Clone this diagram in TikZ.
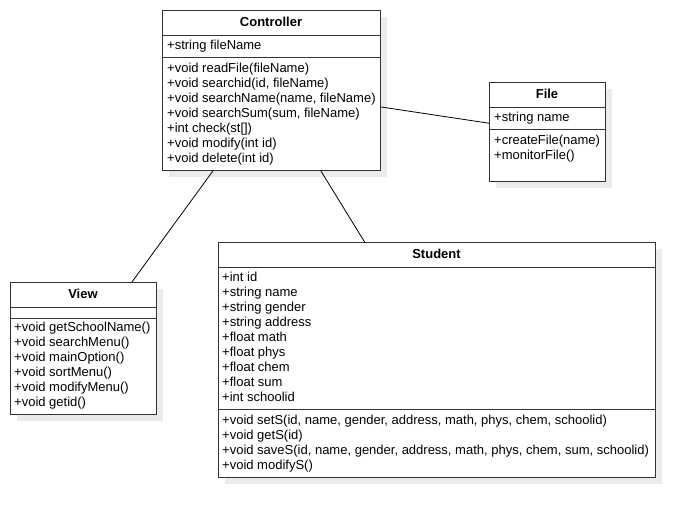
\documentclass[tikz,border=0pt]{standalone}
\usepackage{fontspec}
\setmainfont{Liberation Sans}
\usetikzlibrary{shadows}
\begin{document}
\begin{tikzpicture}[x=1pt,y=-1pt,
  classbox/.style={draw=black!80, line width=1pt, fill=white, anchor=north west, inner sep=0pt,
    drop shadow={shadow xshift=6pt, shadow yshift=-6pt, fill=black!8, opacity=1}},
  sep/.style={draw=black!80, line width=1pt},
  txt/.style={anchor=mid west, inner sep=0pt, yshift=-1.5pt, font=\fontsize{13}{15}\selectfont},
  ttl/.style={anchor=mid, inner sep=0pt, yshift=-1pt, font=\fontsize{13}{15}\selectfont\bfseries},
  conn/.style={draw=black, line width=0.8pt}]
\useasboundingbox (0,0) rectangle (694,517);
\fill[white] (0,0) rectangle (694,517);

% Controller
\node[classbox, minimum width=218pt, minimum height=160pt] (ctrl) at (162,10) {};
\draw[sep] (162,35) -- (380,35);
\draw[sep] (162,57) -- (380,57);
\node[ttl] (ctrlT) at (271,22.5) {Controller};
\node[txt] (c1) at (167,45.5) {+string fileName};
\node[txt] (c2) at (167,68.5) {+void readFile(fileName)};
\node[txt] (c3) at (167,83.5) {+void searchid(id, fileName)};
\node[txt] (c4) at (167,98.5) {+void searchName(name, fileName)};
\node[txt] (c5) at (167,113.5) {+void searchSum(sum, fileName)};
\node[txt] (c6) at (167,128.5) {+int check(st[])};
\node[txt] (c7) at (167,143.5) {+void modify(int id)};
\node[txt] (c8) at (167,158.5) {+void delete(int id)};

% File
\node[classbox, minimum width=116pt, minimum height=99pt] (file) at (489,82) {};
\draw[sep] (489,107) -- (605,107);
\draw[sep] (489,129) -- (605,129);
\node[ttl] (fileT) at (547,94.5) {File};
\node[txt] (f1) at (494,117.5) {+string name};
\node[txt] (f2) at (494,140.5) {+createFile(name)};
\node[txt] (f3) at (494,155.5) {+monitorFile()};

% View
\node[classbox, minimum width=146pt, minimum height=132pt] (view) at (10,282) {};
\draw[sep] (10,307) -- (156,307);
\draw[sep] (10,318) -- (156,318);
\node[ttl] (viewT) at (83,294.5) {View};
\node[txt] (v1) at (14,327.5) {+void getSchoolName()};
\node[txt] (v2) at (14,342.5) {+void searchMenu()};
\node[txt] (v3) at (14,357.5) {+void mainOption()};
\node[txt] (v4) at (14,372.5) {+void sortMenu()};
\node[txt] (v5) at (14,387.5) {+void modifyMenu()};
\node[txt] (v6) at (14,402.5) {+void getid()};

% Student
\node[classbox, minimum width=437pt, minimum height=235pt] (stud) at (218,242) {};
\draw[sep] (218,267) -- (655,267);
\draw[sep] (218,409) -- (655,409);
\node[ttl] (studT) at (436.5,254.5) {Student};
\node[txt] (s1) at (222,277.5) {+int id};
\node[txt] (s2) at (222,292.5) {+string name};
\node[txt] (s3) at (222,307.5) {+string gender};
\node[txt] (s4) at (222,322.5) {+string address};
\node[txt] (s5) at (222,337.5) {+float math};
\node[txt] (s6) at (222,352.5) {+float phys};
\node[txt] (s7) at (222,367.5) {+float chem};
\node[txt] (s8) at (222,382.5) {+float sum};
\node[txt] (s9) at (222,397.5) {+int schoolid};
\node[txt] (s10) at (222,420.5) {+void setS(id, name, gender, address, math, phys, chem, schoolid)};
\node[txt] (s11) at (222,435.5) {+void getS(id)};
\node[txt] (s12) at (222,450.5) {+void saveS(id, name, gender, address, math, phys, chem, sum, schoolid)};
\node[txt] (s13) at (222,465.5) {+void modifyS()};

% connectors
\draw[conn] (ctrl) -- (file);
\draw[conn] (ctrl) -- (view);
\draw[conn] (ctrl) -- (stud);
\end{tikzpicture}
\end{document}
